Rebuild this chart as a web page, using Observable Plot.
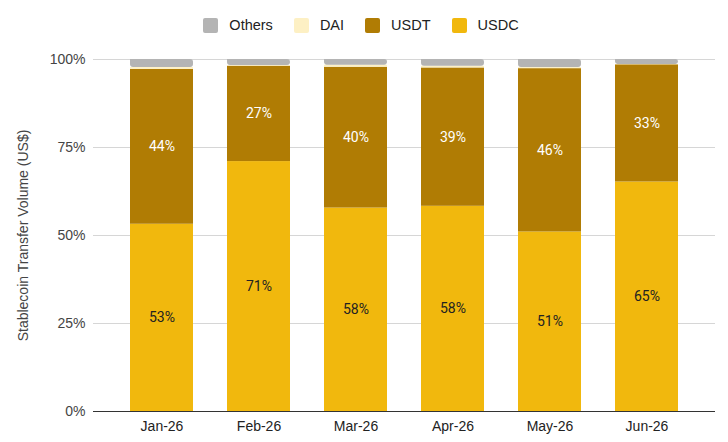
<!DOCTYPE html>
<html>
<head>
<meta charset="utf-8">
<script src="https://cdn.jsdelivr.net/npm/d3@7"></script>
<script src="https://cdn.jsdelivr.net/npm/@observablehq/plot@0.6"></script>
<style>
  body { margin: 0; background: #fff; font-family: "Liberation Sans", Arial, sans-serif; }
  #legend { height: 50px; display: flex; justify-content: center; align-items: center; gap: 21px; font-size: 14.5px; color: #222; padding-right: 6px; }
  #legend .item { display: flex; align-items: center; gap: 11px; }
  #legend .sw { width: 15px; height: 15px; border-radius: 2px; display: inline-block; }
</style>
</head>
<body>
<div id="legend"></div>
<div id="chart"></div>
<script>
const months = ["Jan-26", "Feb-26", "Mar-26", "Apr-26", "May-26", "Jun-26"];
const series = ["USDC", "USDT", "DAI", "Others"];
const usdc = [53.2, 71.0, 57.8, 58.3, 51.0, 65.2];
const usdt = [44.0, 27.1, 40.0, 39.3, 46.4, 33.3];
const dai = [0.5, 0.2, 0.6, 0.5, 0.3, 0.1];
const others = [2.3, 1.7, 1.6, 1.9, 2.3, 1.4];
const yTicks = [0, 25, 50, 75, 100];
const legendOrder = ["Others", "DAI", "USDT", "USDC"];
const colors = {USDC: "#f1b80d", USDT: "#b07c04", DAI: "#fdf0c4", Others: "#b4b4b4"};

const valuesBy = {USDC: usdc, USDT: usdt, DAI: dai, Others: others};
const data = [];
months.forEach((m, i) => {
  series.forEach(s => data.push({month: m, series: s, value: valuesBy[s][i]}));
});

// legend
const lg = document.getElementById("legend");
legendOrder.forEach(s => {
  const it = document.createElement("div");
  it.className = "item";
  it.innerHTML = `<span class="sw" style="background:${colors[s]}"></span><span>${s}</span>`;
  lg.appendChild(it);
});

const stackOpts = {x: "month", y: "value", z: "series", order: series};

const chart = Plot.plot({
  width: 728,
  height: 392,
  marginTop: 9,
  marginBottom: 31,
  marginLeft: 93,
  marginRight: 13,
  style: {fontFamily: "'Liberation Sans', Arial, sans-serif", fontSize: "14px", color: "#333"},
  x: {domain: months, padding: 0.35, label: null},
  y: {domain: [0, 100], ticks: yTicks, label: null},
  marks: [
    Plot.gridY(yTicks.filter(d => d > 0), {stroke: "#d6d6d6", strokeOpacity: 1, strokeWidth: 1}),
    Plot.barY(data, Plot.stackY({...stackOpts, fill: d => colors[d.series], filter: d => d.series !== "Others"})),
    Plot.barY(data, Plot.stackY({...stackOpts, fill: d => d.series === "Others" ? colors.Others : "none", ry2: 3, rx2: 3})),
    Plot.text(data, Plot.stackY({
      ...stackOpts,
      text: d => (d.series === "USDC" || d.series === "USDT") ? Math.round(d.value) + "%" : "",
      fill: d => d.series === "USDT" ? "#ffffff" : "#222222",
      fontFamily: "Roboto, sans-serif",
      fontSize: 14
    })),
    Plot.ruleY([0], {stroke: "#333", strokeWidth: 1}),
    Plot.axisY({ticks: yTicks, tickSize: 0, tickPadding: 8, tickFormat: d => d + "%", fill: "#444",
      label: "Stablecoin Transfer Volume (US$)", labelAnchor: "center", labelArrow: "none", labelOffset: 75, fontSize: 14}),
    Plot.axisX({tickSize: 0, tickPadding: 10, fill: "#222", label: null, fontSize: 14})
  ]
});
document.getElementById("chart").appendChild(chart);
</script>
</body>
</html>
